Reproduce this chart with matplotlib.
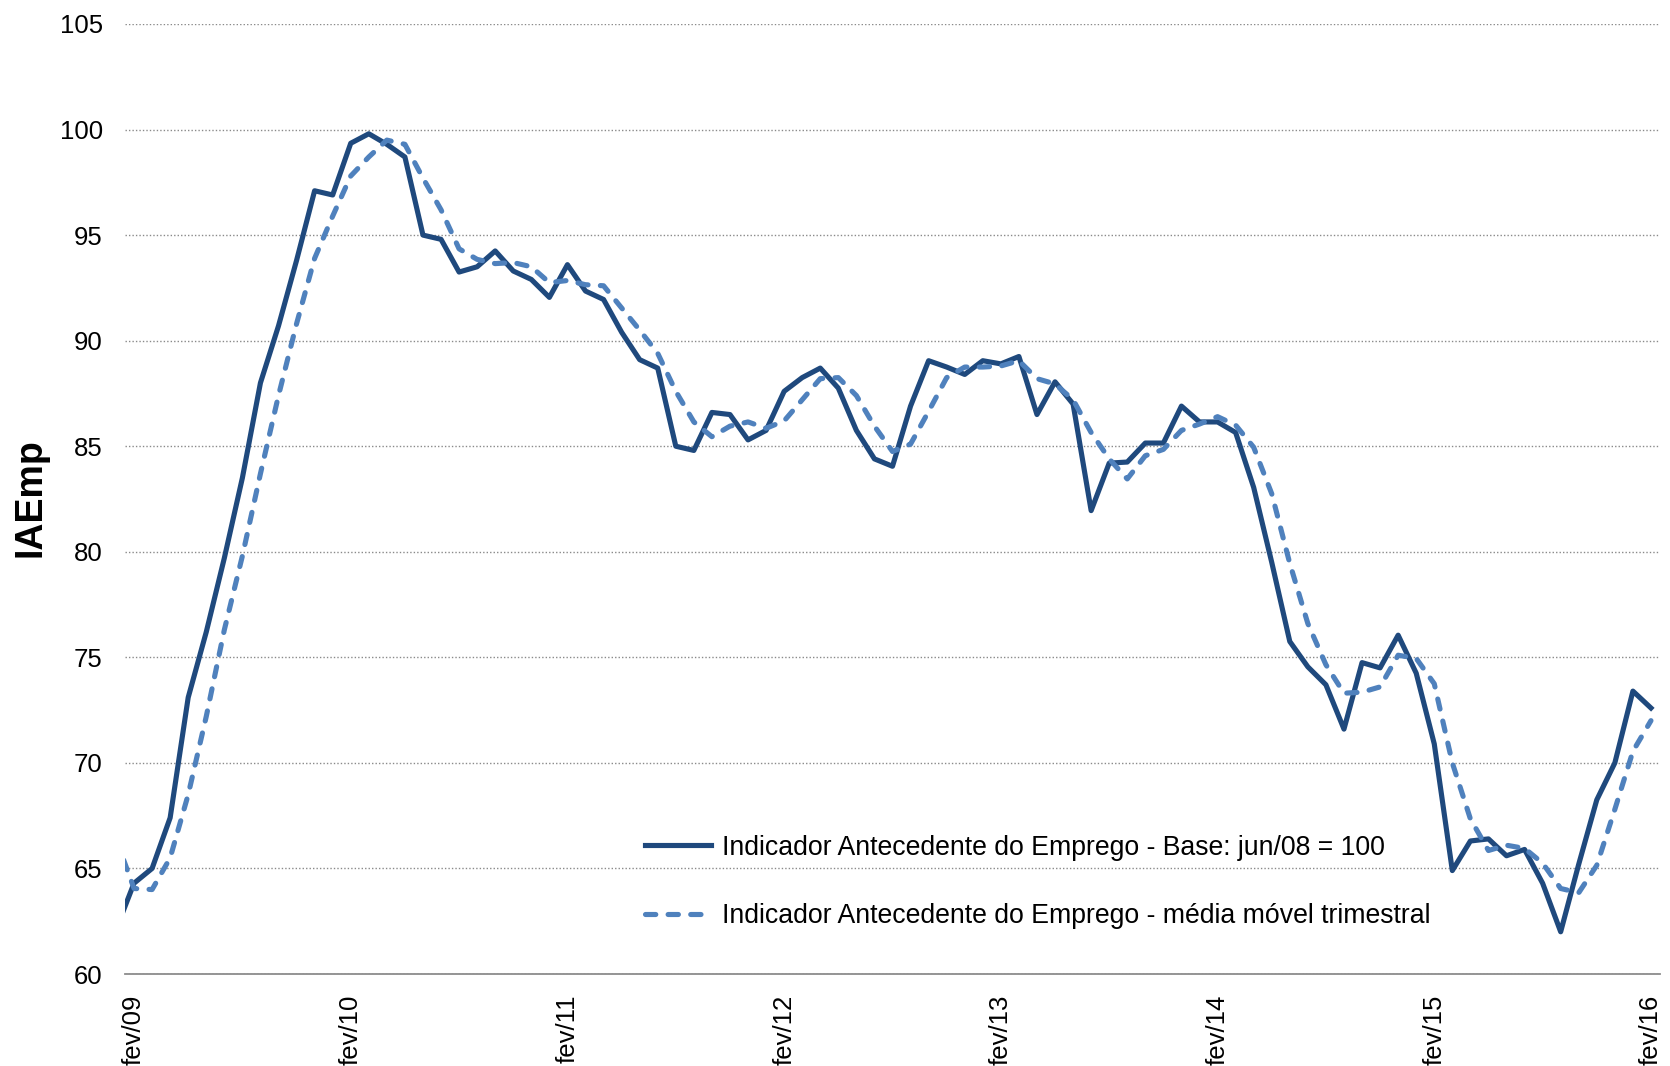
import matplotlib.pyplot as plt

plt.rcParams['font.family'] = ['Liberation Sans', 'DejaVu Sans']

# monthly values jan/09 .. fev/16 (jan/09 sits just left of the plot edge)
iaemp = [62.1,
         64.3, 65.0, 67.4, 73.1, 76.2, 79.7, 83.5, 88.0, 90.7, 93.8,
         97.1, 96.9, 99.35, 99.8, 99.3, 98.7, 95.0, 94.8, 93.25, 93.5,
         94.25, 93.3, 92.9, 92.05, 93.6, 92.35, 91.95, 90.4, 89.1, 88.7,
         85.0, 84.8, 86.6, 86.5, 85.3, 85.75, 87.6, 88.25, 88.7, 87.75,
         85.75, 84.4, 84.05, 86.9, 89.05, 88.75, 88.4, 89.05, 88.9, 89.25,
         86.5, 88.05, 87.0, 81.95, 84.2, 84.25, 85.15, 85.15, 86.9, 86.15,
         86.15, 85.65, 83.05, 79.5, 75.75, 74.55, 73.7, 71.6, 74.75, 74.5,
         76.05, 74.25, 70.9, 64.9, 66.3, 66.4, 65.6, 65.9, 64.3, 62.0,
         65.2, 68.25, 70.0, 73.4, 72.6]

media_movel = [66.4,
               64.05, 64.0, 65.5, 68.5, 72.2, 76.3, 79.8, 83.7, 87.4, 90.8,
               93.9, 95.9, 97.8, 98.7, 99.5, 99.3, 97.7, 96.2, 94.35, 93.85,
               93.65, 93.7, 93.5, 92.75, 92.85, 92.65, 92.6, 91.55, 90.5, 89.4,
               87.6, 86.15, 85.45, 85.95, 86.15, 85.85, 86.2, 87.2, 88.2, 88.25,
               87.4, 85.95, 84.75, 85.1, 86.65, 88.25, 88.75, 88.75, 88.8, 89.05,
               88.2, 87.95, 87.2, 85.65, 84.4, 83.45, 84.55, 84.85, 85.75, 86.05,
               86.4, 86.0, 84.95, 82.75, 79.45, 76.6, 74.65, 73.3, 73.35, 73.6,
               75.1, 74.95, 73.75, 70.0, 67.35, 65.85, 66.1, 65.95, 65.25, 64.05,
               63.85, 65.15, 67.8, 70.55, 72.0]

tick_labels = ['fev/09', 'fev/10', 'fev/11', 'fev/12', 'fev/13', 'fev/14', 'fev/15', 'fev/16']
label_base = 'Indicador Antecedente do Emprego - Base: jun/08 = 100'
label_mm = 'Indicador Antecedente do Emprego - média móvel trimestral'

x = list(range(-1, len(iaemp) - 1))

fig = plt.figure(figsize=(16.7, 10.66), dpi=100)
ax = fig.add_axes([0.07485, 0.0863, 0.91916, 0.8912])

ax.plot(x, iaemp, color='#1F497D', lw=3.7, label=label_base)
ax.plot(x, media_movel, color='#4F81BD', lw=3.7, linestyle=(0, (2.0, 2.4)),
        dash_capstyle='round', label=label_mm)

ax.set_xlim(-0.5, len(iaemp) - 1.5)
ax.set_ylim(60, 105)
ax.set_yticks(range(60, 106, 5))
ax.set_xticks(range(0, 85, 12))
ax.set_xticklabels(tick_labels, rotation=90)
ax.tick_params(axis='both', length=0, labelsize=18.5)
ax.tick_params(axis='y', pad=16)
ax.tick_params(axis='x', pad=15)

ax.yaxis.grid(True, linestyle=(0, (1, 1.5)), color='#8a8a8a', lw=1.0)
ax.set_axisbelow(True)
for side in ['left', 'top', 'right']:
    ax.spines[side].set_visible(False)
ax.spines['bottom'].set_color('#8c8c8c')
ax.spines['bottom'].set_linewidth(1.3)

fig.text(0.018, 0.533, 'IAEmp', rotation=90, ha='center', va='center',
         fontsize=27, fontweight='bold')

ax.legend(loc='center left', bbox_to_anchor=(0.3385, 0.097), frameon=False,
          fontsize=19.2, handlelength=2.5, handletextpad=0.4, labelspacing=1.58,
          borderpad=0, borderaxespad=0)

fig.savefig('out.png', dpi=100)
